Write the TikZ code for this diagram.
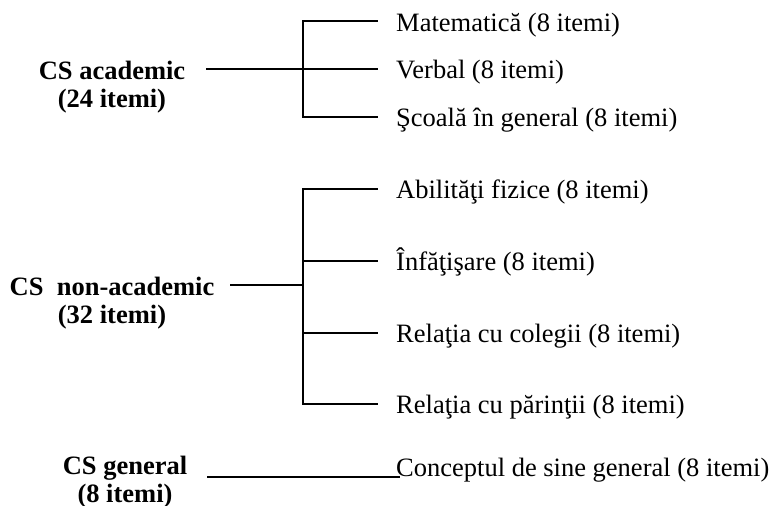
\documentclass[tikz,border=0pt]{standalone}
\usepackage{fontspec}
\setmainfont{Liberation Serif}
\begin{document}
\begin{tikzpicture}[x=1pt,y=-1pt,
  conn/.style={line width=2pt,line cap=rect},
  leaf/.style={anchor=base west,inner sep=0pt,font=\fontsize{26.5}{28}\selectfont},
  head/.style={anchor=base,inner sep=0pt,align=center,font=\fontsize{26.5}{28}\selectfont\bfseries}]
\useasboundingbox (0,0) rectangle (774,506);
% academic (anchor=base is the last line's baseline)
\node[head] (acad) at (112,107) {CS academic\\(24 itemi)};
\coordinate (a0) at (207,69);
\coordinate (aj) at (303,69);
\coordinate (at) at (303,21);
\coordinate (ab) at (303,117);
\node[leaf] (m) at (396,31) {Matematică (8 itemi)};
\node[leaf] (v) at (396,78) {Verbal (8 itemi)};
\node[leaf] (s) at (396,126) {Şcoală în general (8 itemi)};
\coordinate (me) at (377,21);
\coordinate (ve) at (377,69);
\coordinate (se) at (377,117);
\draw[conn] (a0) -- (aj);
\draw[conn] (at) -- (ab);
\draw[conn] (at) -- (me);
\draw[conn] (aj) -- (ve);
\draw[conn] (ab) -- (se);
% non-academic
\node[head] (nonac) at (112,323) {CS\ \ non-academic\\(32 itemi)};
\coordinate (n0) at (231,285);
\coordinate (nj) at (303,285);
\coordinate (nt) at (303,189);
\coordinate (n2) at (303,261);
\coordinate (n3) at (303,333);
\coordinate (nb) at (303,404);
\node[leaf] (af) at (396,198) {Abilităţi fizice (8 itemi)};
\node[leaf] (inf) at (396,270) {Înfăţişare (8 itemi)};
\node[leaf] (rc) at (396,342) {Relaţia cu colegii (8 itemi)};
\node[leaf] (rp) at (396,413) {Relaţia cu părinţii (8 itemi)};
\coordinate (afe) at (377,189);
\coordinate (infe) at (377,261);
\coordinate (rce) at (377,333);
\coordinate (rpe) at (377,404);
\draw[conn] (n0) -- (nj);
\draw[conn] (nt) -- (nb);
\draw[conn] (nt) -- (afe);
\draw[conn] (n2) -- (infe);
\draw[conn] (n3) -- (rce);
\draw[conn] (nb) -- (rpe);
% general
\node[head] (gen) at (125,502) {CS general\\(8 itemi)};
\coordinate (g0) at (207,477);
\node[leaf] (cg) at (396,476) {Conceptul de sine general (8 itemi)};
\coordinate (ge) at (400,477);
\draw[conn,line cap=butt] (g0) -- (ge);
\end{tikzpicture}
\end{document}
